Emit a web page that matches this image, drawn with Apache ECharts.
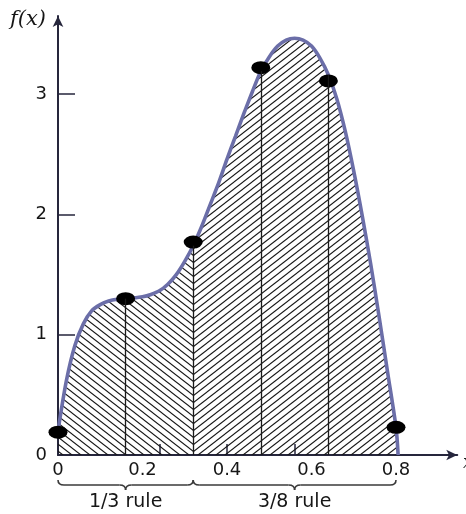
<!DOCTYPE html>
<html>
<head>
<meta charset="utf-8">
<script src="https://cdn.jsdelivr.net/npm/echarts@6/dist/echarts.min.js"></script>
<style>
  html, body { margin: 0; padding: 0; background: #fff; }
  #main { width: 466px; height: 514px; }
</style>
</head>
<body>
<div id="main"></div>
<script>
// curve
var curveX = [0, 0.02, 0.04, 0.06, 0.08, 0.10, 0.12, 0.14, 0.16, 0.18, 0.20,
  0.22, 0.24, 0.26, 0.28, 0.30, 0.32, 0.34, 0.36, 0.38, 0.40,
  0.42, 0.44, 0.46, 0.48, 0.50, 0.52, 0.54, 0.56, 0.58, 0.60,
  0.62, 0.64, 0.66, 0.68, 0.70, 0.72, 0.74, 0.76, 0.78, 0.80, 0.805];
var curveY = [0.2, 0.62, 0.91, 1.09, 1.20, 1.25, 1.28, 1.295, 1.30, 1.305, 1.315,
  1.335, 1.365, 1.42, 1.50, 1.61, 1.74, 1.90, 2.08, 2.26, 2.46,
  2.65, 2.84, 3.02, 3.19, 3.31, 3.40, 3.45, 3.465, 3.45, 3.40,
  3.30, 3.16, 2.96, 2.69, 2.36, 1.99, 1.59, 1.15, 0.69, 0.23, 0];

// sample points (black dots)
var nodeX = [0, 0.16, 0.32, 0.48, 0.64, 0.80];
var nodeY = [0.19, 1.30, 1.77, 3.22, 3.11, 0.23];

// vertical strip lines
var stripX = [0.16, 0.32, 0.48, 0.64];
var stripY = [1.30, 1.74, 3.19, 3.16];

var xLabels = [0, 0.2, 0.4, 0.6, 0.8];
var xTicks = [0.24, 0.4, 0.56];
var yLabels = [0, 1, 2, 3];
var yTicks = [1, 2, 3];

var split = 0.32;   // 1/3 rule | 3/8 rule
var ruleEnd = 0.8;

function hatch(dir) {
  var w = 9, h = 7;
  var c = document.createElement('canvas');
  c.width = w; c.height = h;
  var ctx = c.getContext('2d');
  ctx.strokeStyle = '#151515';
  ctx.lineWidth = 1.1;
  for (var i = -1; i <= 1; i++) {
    for (var j = -1; j <= 1; j++) {
      ctx.beginPath();
      if (dir === 'back') {
        ctx.moveTo(i * w, j * h);
        ctx.lineTo(i * w + w, j * h + h);
      } else {
        ctx.moveTo(i * w, j * h + h);
        ctx.lineTo(i * w + w, j * h);
      }
      ctx.stroke();
    }
  }
  return c;
}

var curve = curveX.map(function (x, i) { return [x, curveY[i]]; });
var leftPart = curve.filter(function (p) { return p[0] <= split; });
var rightPart = curve.filter(function (p) { return p[0] >= split; });
var nodes = nodeX.map(function (x, i) { return [x, nodeY[i]]; });

var axisColor = '#26263c';
var font = 'DejaVu Sans';

var myChart = echarts.init(document.getElementById('main'));

var option = {
  backgroundColor: '#fff',
  animation: false,
  grid: { left: 58, right: 466 - 58 - 0.945 * 422.5, top: 16, bottom: 59 },
  xAxis: {
    type: 'value',
    min: 0,
    max: 0.945,
    splitLine: { show: false },
    axisLine: {
      lineStyle: { color: axisColor, width: 2 },
      symbol: ['none', 'arrow'],
      symbolSize: [8, 11]
    },
    axisTick: {
      inside: true,
      length: 11,
      customValues: xTicks,
      lineStyle: { color: axisColor, width: 1.5 }
    },
    axisLabel: {
      customValues: xLabels,
      margin: 6,
      fontFamily: font,
      fontSize: 18,
      color: '#161616'
    }
  },
  yAxis: {
    type: 'value',
    min: 0,
    max: 3.65,
    splitLine: { show: false },
    axisLine: {
      lineStyle: { color: axisColor, width: 2 },
      symbol: ['none', 'arrow'],
      symbolSize: [8, 11]
    },
    axisTick: {
      inside: true,
      length: 17,
      customValues: yTicks,
      lineStyle: { color: axisColor, width: 1.5 }
    },
    axisLabel: {
      customValues: yLabels,
      margin: 11,
      fontFamily: font,
      fontSize: 18,
      color: '#161616'
    }
  },
  series: [
    {
      type: 'line',
      data: leftPart,
      smooth: 0.3,
      showSymbol: false,
      lineStyle: { width: 0 },
      areaStyle: { color: { image: hatch('back'), repeat: 'repeat' }, opacity: 1 },
      z: 2,
      silent: true,
      markLine: {
        silent: true,
        symbol: 'none',
        label: { show: false },
        lineStyle: { color: '#1a1a1a', width: 1.3, type: 'solid' },
        data: stripX.map(function (x, i) {
          return [{ coord: [x, 0] }, { coord: [x, stripY[i]] }];
        })
      }
    },
    {
      type: 'line',
      data: rightPart,
      smooth: 0.3,
      showSymbol: false,
      lineStyle: { width: 0 },
      areaStyle: { color: { image: hatch('fwd'), repeat: 'repeat' }, opacity: 1 },
      z: 2,
      silent: true
    },
    {
      type: 'line',
      data: curve,
      smooth: 0.3,
      showSymbol: false,
      lineStyle: { color: '#6b6ea8', width: 3.6 },
      z: 3,
      silent: true
    },
    {
      type: 'scatter',
      data: nodes,
      symbol: 'circle',
      symbolSize: [19, 13],
      itemStyle: { color: '#000', opacity: 1 },
      z: 4,
      silent: true
    }
  ]
};

myChart.setOption(option);

// curly brace under the axis, built from quadratic curves and lines
function brace(xa, xb, y0, y1, y2) {
  var m = (xa + xb) / 2;
  var st = { stroke: '#3a3a3a', lineWidth: 1.6, fill: 'none' };
  function q(x1, y1_, cx, cy, x2, y2_) {
    return { type: 'bezierCurve', shape: { x1: x1, y1: y1_, cpx1: cx, cpy1: cy, x2: x2, y2: y2_ }, style: st };
  }
  function l(x1, y1_, x2, y2_) {
    return { type: 'line', shape: { x1: x1, y1: y1_, x2: x2, y2: y2_ }, style: st };
  }
  return [
    q(xa, y0, xa, y1, xa + 6, y1),
    l(xa + 6, y1, m - 6, y1),
    q(m - 6, y1, m, y1, m, y2),
    q(m, y2, m, y1, m + 6, y1),
    l(m + 6, y1, xb - 6, y1),
    q(xb - 6, y1, xb, y1, xb, y0)
  ];
}

var px0 = myChart.convertToPixel({ xAxisIndex: 0 }, 0);
var pxS = myChart.convertToPixel({ xAxisIndex: 0 }, split);
var pxE = myChart.convertToPixel({ xAxisIndex: 0 }, ruleEnd);

var graphics = brace(px0, pxS, 480, 485, 490).concat(brace(pxS, pxE, 480, 485, 490));
graphics.push(
  {
    type: 'text',
    x: (px0 + pxS) / 2, y: 502,
    style: { text: '1/3 rule', fontFamily: font, fontSize: 19, fill: '#161616', textAlign: 'center', textVerticalAlign: 'middle' }
  },
  {
    type: 'text',
    x: (pxS + pxE) / 2, y: 502,
    style: { text: '3/8 rule', fontFamily: font, fontSize: 19, fill: '#161616', textAlign: 'center', textVerticalAlign: 'middle' }
  },
  {
    type: 'text',
    x: 10, y: 20,
    style: { text: 'f(x)', fontFamily: 'DejaVu Serif', fontStyle: 'italic', fontSize: 21, fill: '#161616', textVerticalAlign: 'middle' }
  },
  {
    type: 'text',
    x: 463, y: 463,
    style: { text: 'x', fontFamily: 'DejaVu Serif', fontStyle: 'italic', fontSize: 18, fill: '#161616', textVerticalAlign: 'middle' }
  }
);

myChart.setOption({ graphic: graphics });
</script>
</body>
</html>
